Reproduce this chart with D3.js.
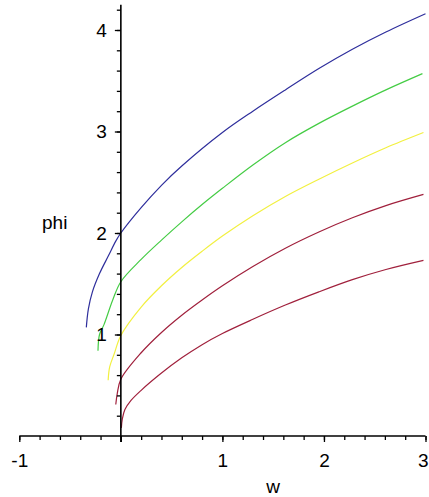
<!DOCTYPE html>
<html>
<head>
<meta charset="utf-8">
<script src="https://cdn.jsdelivr.net/npm/d3@7"></script>
<style>
  body { margin: 0; background: #fff; }
  text { font-family: "Liberation Sans", Arial, sans-serif; }
</style>
</head>
<body>
<div id="chart"></div>
<script>
// curves, [w, phi]
var blueCurve = [[-0.34,1.07],[-0.32,1.25],[-0.28,1.42],[-0.21,1.60],[-0.12,1.78],[-0.05,1.92],[0,2.00],
  [0.2,2.25],[0.4,2.47],[0.6,2.66],[1.0,2.99],[1.3,3.20],[1.62,3.41],[1.95,3.62],[2.28,3.81],[2.61,3.98],[3.0,4.16]]
var greenCurve = [[-0.225,0.84],[-0.21,1.00],[-0.165,1.10],[-0.08,1.34],[0,1.52],[0.2,1.74],[0.4,1.93],
  [0.6,2.11],[0.8,2.28],[1.0,2.44],[1.3,2.67],[1.62,2.89],[1.95,3.08],[2.28,3.25],[2.61,3.41],[2.97,3.57]]
var yellowCurve = [[-0.125,0.55],[-0.11,0.68],[-0.065,0.81],[0,0.99],[0.2,1.27],[0.4,1.48],[0.6,1.66],
  [0.8,1.82],[1.0,1.97],[1.3,2.17],[1.62,2.36],[1.95,2.53],[2.28,2.69],[2.61,2.84],[2.98,2.99]]
var redUpperCurve = [[-0.05,0.31],[-0.035,0.42],[0,0.56],[0.2,0.82],[0.4,1.02],[0.6,1.19],[0.8,1.34],
  [1.0,1.48],[1.3,1.67],[1.62,1.85],[1.95,2.01],[2.28,2.15],[2.61,2.27],[2.98,2.38]]
var redLowerCurve = [[0.005,0.08],[0.015,0.17],[0.04,0.26],[0.1,0.35],[0.2,0.45],[0.4,0.62],[0.6,0.77],
  [0.8,0.90],[1.0,1.01],[1.3,1.15],[1.62,1.29],[1.95,1.42],[2.28,1.54],[2.61,1.64],[2.98,1.73]]

var xMajor = [-1, 0, 1, 2, 3]
var yMajor = [1, 2, 3, 4]

var curves = [
  { pts: blueCurve, color: "#2e2e9c" },
  { pts: greenCurve, color: "#44cc44" },
  { pts: yellowCurve, color: "#f2f040" },
  { pts: redUpperCurve, color: "#a0203c" },
  { pts: redLowerCurve, color: "#a0203c" }
]

var width = 429, height = 497

var svg = d3.select("#chart").append("svg")
  .attr("width", width)
  .attr("height", height)

var x = d3.scaleLinear().domain([-1, 3]).range([19.3, 425.5])
var y = d3.scaleLinear().domain([0, 4]).range([436, 30])

var xMinor = d3.range(-1, 3.001, 0.2).map(function (d) { return +d.toFixed(1) })
var yMinor = d3.range(0.2, 4.21, 0.2).map(function (d) { return +d.toFixed(1) })

// plain hyphen for the minus sign, like the original
var fmt = function (d) { return String(d) }

// curves
var line = d3.line()
  .x(function (d) { return x(d[0]) })
  .y(function (d) { return y(d[1]) })
  .curve(d3.curveCatmullRom.alpha(0.5))

svg.selectAll(".curve")
  .data(curves)
  .enter().append("path")
  .attr("class", "curve")
  .attr("fill", "none")
  .attr("stroke", function (d) { return d.color })
  .attr("stroke-width", 1.2)
  .attr("d", function (d) { return line(d.pts) })

// x axis
var xAxisMinor = d3.axisBottom(x).tickValues(xMinor).tickSize(4).tickFormat("")
var xAxis = d3.axisBottom(x).tickValues(xMajor).tickSize(6).tickPadding(12).tickFormat(fmt)

svg.append("g").attr("transform", "translate(0," + y(0) + ")").call(xAxisMinor)
var gx = svg.append("g").attr("transform", "translate(0," + y(0) + ")").call(xAxis)
gx.selectAll("text").filter(function (d) { return d === 0 }).remove()
// last label sits against the right edge
gx.selectAll("text").filter(function (d) { return d === 3 })
  .attr("text-anchor", "end").attr("x", 428 - x(3))

// y axis
var yAxisMinor = d3.axisLeft(y).tickValues(yMinor).tickSize(4).tickFormat("")
var yAxis = d3.axisLeft(y).tickValues(yMajor).tickSize(6).tickPadding(8).tickFormat(fmt)

svg.append("g").attr("transform", "translate(" + x(0) + ",0)").call(yAxisMinor)
svg.append("g").attr("transform", "translate(" + x(0) + ",0)").call(yAxis)

svg.selectAll(".domain").remove()
svg.selectAll(".tick line").attr("stroke", "#000").attr("stroke-width", 1.3)
svg.selectAll(".tick text").attr("font-size", 19).attr("fill", "#000")
  .attr("font-family", "Liberation Sans, Arial, sans-serif")

// axis lines
svg.append("line")
  .attr("x1", x(-1)).attr("x2", x(3))
  .attr("y1", y(0)).attr("y2", y(0))
  .attr("stroke", "#000").attr("stroke-width", 1.6)
svg.append("line")
  .attr("x1", x(0)).attr("x2", x(0))
  .attr("y1", y(0) + 6).attr("y2", y(4.25))
  .attr("stroke", "#000").attr("stroke-width", 1.6)

// axis titles
svg.append("text")
  .attr("x", x(1.5)).attr("y", 493)
  .attr("text-anchor", "middle")
  .attr("font-size", 19)
  .text("w")

svg.append("text")
  .attr("x", 42).attr("y", 229)
  .attr("font-size", 19)
  .text("phi")
</script>
</body>
</html>
